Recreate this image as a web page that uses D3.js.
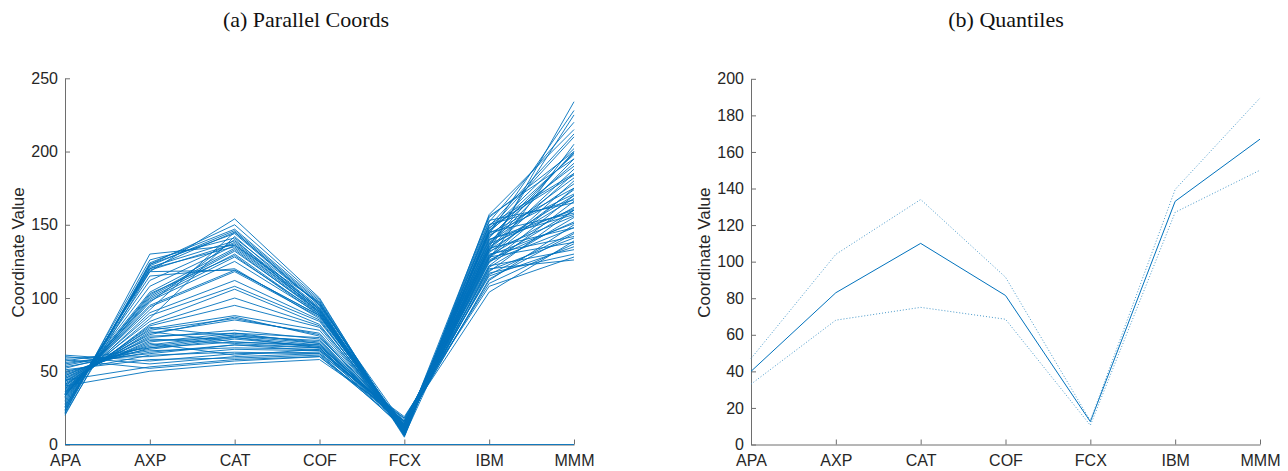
<!DOCTYPE html>
<html><head><meta charset="utf-8">
<script src="https://cdn.jsdelivr.net/npm/d3@7"></script>
<style>
body{margin:0;background:#fff;}
svg{display:block;}
</style></head>
<body>
<svg id="c" width="1288" height="471"></svg>
<script>
const categories = ["APA","AXP","CAT","COF","FCX","IBM","MMM"];
const leftTicks = [0,50,100,150,200,250];
const rightTicks = [0,20,40,60,80,100,120,140,160,180,200];

// Parallel coordinates rows (APA, AXP, CAT, COF, FCX, IBM, MMM)
const rows = [
  [58,52,57,60,16,104,139],[60,55,60,62,19,108,128],[61,57,62,63,14,112,150],
  [59,60,65,64,18,115,135],[56,62,68,66,12,118,160],[55,64,66,65,16,120,126],
  [57,66,70,68,15,116,145],[54,65,72,67,17,122,133],[52,67,74,69,13,124,170],
  [53,63,68,64,16,119,141],[50,61,63,62,11,121,155],[51,58,59,61,14,117,130],
  [49,66,73,66,15,125,148],[40,50,55,58,18,110,137],[44,53,58,60,13,113,144],
  [48,68,75,70,14,126,152],[47,69,61,65,10,127,175],[46,70,76,69,14,128,138],
  [45,71,73,68,12,125,160],[47,72,69,66,13,129,151],[44,73,78,72,11,140,157],
  [43,74,76,73,15,130,142],[45,75,87,74,13,128,180],[42,76,85,76,12,145,158],
  [41,77,70,67,16,129,162],[43,78,86,75,9,132,156],[40,79,88,78,12,133,185],
  [41,80,74,71,14,137,161],[39,81,95,80,11,122,166],[38,82,100,81,13,134,148],
  [40,84,106,82,10,133,168],[37,86,142,92,12,135,170],[38,88,108,84,11,150,167],
  [36,90,112,85,9,136,195],[37,92,145,95,13,131,174],[35,94,118,87,10,137,200],
  [36,95,119,88,12,143,171],[34,97,140,90,8,138,178],[35,98,125,89,11,127,205],
  [34,99,128,90,10,139,182],[33,100,130,89,7,148,184],[34,101,132,91,10,140,160],
  [33,102,133,90,12,134,188],[32,103,129,88,9,141,199],[33,104,134,91,11,146,190],
  [31,108,136,92,8,142,192],[30,112,138,93,10,156,195],[29,115,120,86,7,145,198],
  [28,118,119,88,9,144,175],[27,119,137,93,6,146,202],[26,120,145,96,8,153,165],
  [25,121,139,94,6,147,210],[24,122,146,97,9,150,185],[23,123,144,95,5,152,220],
  [22,124,147,98,7,155,200],[21,118,154,100,6,157,215],[20,123,150,99,8,135,225],
  [22,130,136,97,6,132,234],[24,126,141,96,10,149,212],[26,120,135,92,7,144,228],
  [0,0,0,0,0,0,0]
];

// Quantiles panel
const q50 = [40,83,110,81.5,12.5,133,167];
const q75 = [47,104,134,91.5,13,139.5,189.5];
const q25 = [33,68,75,68.5,10.5,127,150];

const svg = d3.select("#c");
const blue = "#0072BD";
const axisCol = "#6e6e6e";
const textCol = "#262626";

function panel(x0, x1, yTop, yBot, yMax, ticks, title, titleX) {
  const g = svg.append("g");
  const x = d3.scalePoint().domain(categories).range([x0, x1]);
  const y = d3.scaleLinear().domain([0, yMax]).range([yBot, yTop]);

  const ya = g.append("g").attr("transform", `translate(${x0},0)`)
    .call(d3.axisLeft(y).tickValues(ticks).tickSizeInner(-5).tickSizeOuter(0).tickPadding(7));
  const xa = g.append("g").attr("transform", `translate(0,${yBot})`)
    .call(d3.axisBottom(x).tickSizeInner(-5).tickSizeOuter(0).tickPadding(6));
  [ya, xa].forEach(a => {
    a.selectAll("path,line").attr("stroke", axisCol);
    a.selectAll("text").attr("fill", textCol).style("font-family", "'Liberation Sans', Arial, sans-serif").style("font-size", "16px");
  });
  xa.selectAll("text").attr("dy", "0.95em");

  g.append("text").attr("transform", `translate(${x0 - 41},${(yTop + yBot) / 2 - 9}) rotate(-90)`)
    .attr("text-anchor", "middle").attr("fill", textCol)
    .style("font-family", "'Liberation Sans', Arial, sans-serif").style("font-size", "17px")
    .text("Coordinate Value");

  svg.append("text").attr("x", titleX).attr("y", 27).attr("text-anchor", "middle")
    .attr("fill", "#111").style("font-family", "'Liberation Serif', 'Times New Roman', serif").style("font-size", "22px")
    .text(title);
  return {g, x, y};
}

// Left panel
const L = panel(65, 574, 78.3, 444.5, 250, leftTicks, "(a) Parallel Coords", 306);
const lineL = d3.line().x((d, i) => L.x(categories[i])).y(d => L.y(d));
L.g.append("g").selectAll("path").data(rows).join("path")
  .attr("d", lineL).attr("fill", "none").attr("stroke", blue).attr("stroke-width", 0.9);

// Right panel
const R = panel(751, 1260, 78.8, 444.5, 200, rightTicks, "(b) Quantiles", 1006);
const lineR = d3.line().x((d, i) => R.x(categories[i])).y(d => R.y(d));
R.g.append("path").datum(q50).attr("d", lineR).attr("fill", "none").attr("stroke", blue).attr("stroke-width", 1);
[q25, q75].forEach(q => {
  R.g.append("path").datum(q).attr("d", lineR).attr("fill", "none").attr("stroke", "#4a9acb")
    .attr("stroke-width", 1).attr("stroke-dasharray", "1,2");
});
</script>
</body></html>
